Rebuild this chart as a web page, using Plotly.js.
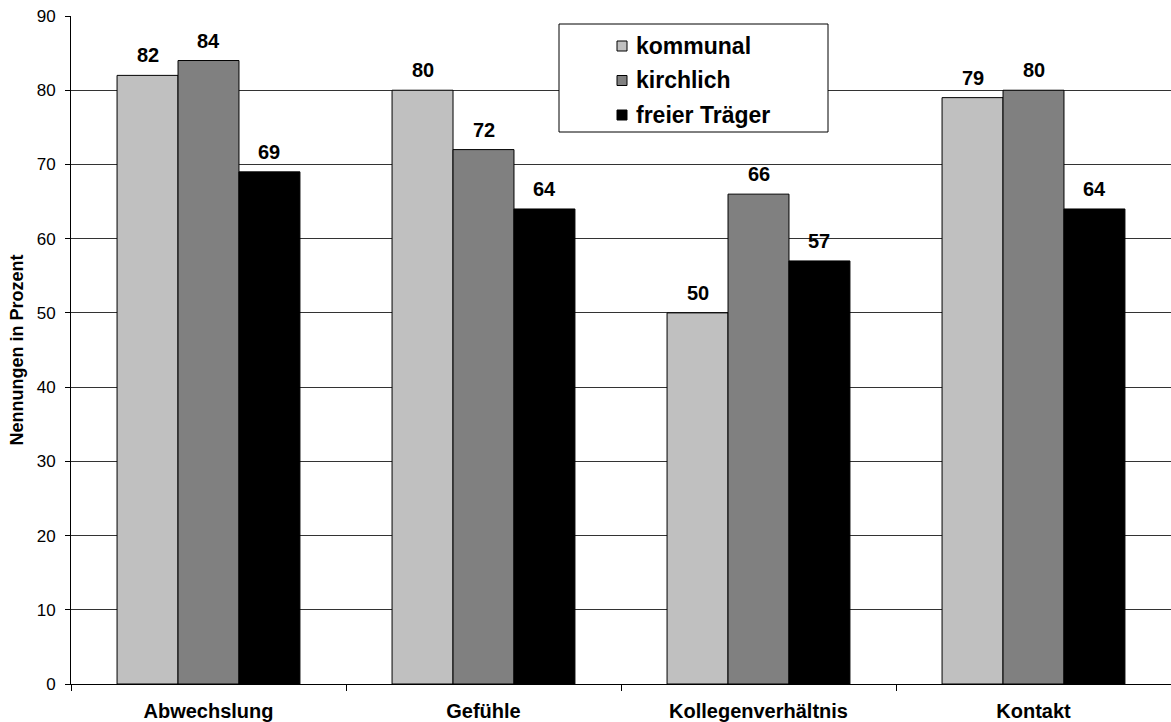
<!DOCTYPE html>
<html>
<head>
<meta charset="utf-8">
<script src="https://cdn.plot.ly/plotly-3.0.1.min.js"></script>
<style>html,body{margin:0;padding:0;background:#fff;}#chart{width:1171px;height:722px;}</style>
</head>
<body>
<div id="chart"></div>
<script>
const categories = ["Abwechslung", "Gefühle", "Kollegenverhältnis", "Kontakt"];
const seriesNames = ["kommunal", "kirchlich", "freier Träger"];
const kommunal = [82, 80, 50, 79];
const kirchlich = [84, 72, 66, 80];
const freierTraeger = [69, 64, 57, 64];
const seriesValues = [kommunal, kirchlich, freierTraeger];
const seriesColors = ["#C0C0C0", "#808080", "#000000"];
const yTicks = [0, 10, 20, 30, 40, 50, 60, 70, 80, 90];

const W = 1171, H = 722;
const margin = {l: 71, r: 0, t: 16, b: 38};
const plotW = W - margin.l - margin.r;
const plotH = H - margin.t - margin.b;
const bargap = 0.335;
const barPx = (plotW / categories.length) * (1 - bargap) / seriesNames.length;
const FONT = "Liberation Sans, Arial, sans-serif";

const traces = seriesValues.map((vals, i) => ({
  type: "bar",
  name: seriesNames[i],
  x: categories,
  y: vals,
  marker: {color: seriesColors[i], line: {color: "#000", width: 1}},
  showlegend: false,
  hoverinfo: "x+y+name"
}));

const annotations = [];
seriesValues.forEach((vals, i) => {
  vals.forEach((v, j) => {
    annotations.push({
      x: categories[j], y: v, xref: "x", yref: "y",
      text: "<b>" + v + "</b>", showarrow: false,
      xanchor: "center", yanchor: "bottom",
      xshift: (i - 1) * barPx, yshift: 7,
      font: {family: FONT, size: 20, color: "#000"}
    });
  });
});

// custom legend
const px2x = p => (p - margin.l) / plotW;
const py2y = p => (H - margin.b - p) / plotH;
const shapes = [{
  type: "rect", xref: "paper", yref: "paper",
  x0: px2x(559), x1: px2x(828), y0: py2y(132), y1: py2y(24),
  line: {color: "#000", width: 1}, fillcolor: "#fff", layer: "above"
}];
const legTop = 46, legStep = 34.5;
seriesNames.forEach((n, i) => {
  const cy = legTop + i * legStep;
  shapes.push({
    type: "rect", xref: "paper", yref: "paper",
    x0: px2x(617), x1: px2x(627), y0: py2y(cy + 5), y1: py2y(cy - 5),
    line: {color: "#000", width: 1}, fillcolor: seriesColors[i], layer: "above"
  });
  annotations.push({
    xref: "paper", yref: "paper", x: px2x(634), y: py2y(cy),
    xanchor: "left", yanchor: "middle", showarrow: false,
    text: "<b>" + n + "</b>", font: {family: FONT, size: 23, color: "#000"}
  });
});

const layout = {
  width: W, height: H,
  margin: margin,
  paper_bgcolor: "#fff", plot_bgcolor: "#fff",
  font: {family: FONT, color: "#000"},
  barmode: "group", bargap: bargap, bargroupgap: 0,
  showlegend: false,
  xaxis: {
    type: "category",
    showline: true, linecolor: "#000", linewidth: 1,
    ticks: "outside", tickson: "boundaries", ticklen: 6, tickcolor: "#000",
    tickfont: {family: FONT, size: 20, color: "#000"},
    tickprefix: "<b>", ticksuffix: "</b>",
    showgrid: false, zeroline: false, fixedrange: true,
    ticklabelstandoff: 9
  },
  yaxis: {
    range: [0, 90], tickvals: yTicks, ticktext: yTicks.map(String),
    showline: true, linecolor: "#000", linewidth: 1,
    ticks: "outside", ticklen: 5, tickcolor: "#000",
    tickfont: {family: FONT, size: 17, color: "#000"},
    showgrid: true, gridcolor: "#333", gridwidth: 1,
    zeroline: false, fixedrange: true,
    ticklabelstandoff: 6,
    title: {text: "<b>Nennungen in Prozent</b>", font: {family: FONT, size: 18, color: "#000"}, standoff: 8}
  },
  annotations: annotations,
  shapes: shapes
};

Plotly.newPlot("chart", traces, layout, {displayModeBar: false, staticPlot: true});
</script>
</body>
</html>
